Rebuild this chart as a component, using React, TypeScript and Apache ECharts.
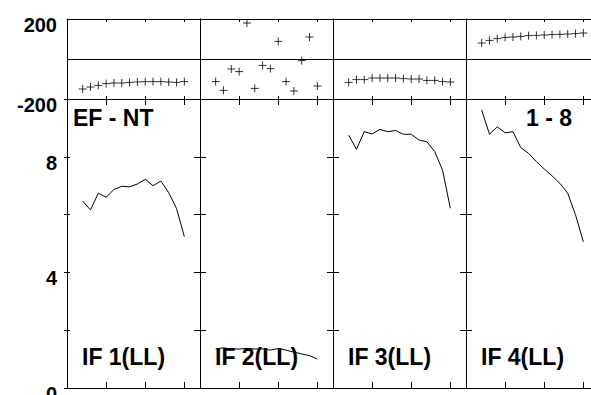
import React, { useEffect, useRef } from "react";
import * as echarts from "echarts";

const xValues = [2, 3, 4, 5, 6, 7, 8, 9, 10, 11, 12, 13, 14, 15];
const panelLabels = ["IF 1(LL)", "IF 2(LL)", "IF 3(LL)", "IF 4(LL)"];
const topTickLabels = [-200, 200];
const bottomTickLabels = [0, 4, 8];

const topIF1 = [-150, -140, -132, -123, -120, -120, -117, -115, -113, -113, -113, -115, -117, -113];
const topIF2 = [-113, -157, -50, -63, 180, -147, -32, -48, 88, -113, -160, -8, 110, -135];
const topIF3 = [-117, -103, -103, -95, -95, -95, -95, -98, -100, -100, -107, -107, -113, -115];
const topIF4 = [80, 93, 102, 108, 110, 113, 117, 118, 120, 122, 123, 125, 127, 130];

const lineIF1 = [6.47, 6.16, 6.74, 6.6, 6.87, 6.98, 6.96, 7.06, 7.22, 7.0, 7.16, 6.76, 6.21, 5.24];
const lineIF2 = [1.35, 1.39, 1.35, 1.35, 1.37, 1.35, 1.35, 1.31, 1.37, 1.31, 1.24, 1.18, 1.12, 1.0];
const lineIF3 = [8.75, 8.26, 8.87, 8.79, 8.95, 8.87, 8.91, 8.78, 8.78, 8.58, 8.52, 8.18, 7.54, 6.22];
const lineIF4 = [9.62, 8.78, 9.04, 8.83, 8.87, 8.32, 8.12, 7.83, 7.58, 7.34, 7.08, 6.74, 5.99, 5.06];

const topSeries = [topIF1, topIF2, topIF3, topIF4];
const lineSeries = [lineIF1, lineIF2, lineIF3, lineIF4];

const FONT = '"Liberation Sans", Arial, sans-serif';
const PANEL_LEFT = 67;
const PANEL_W = 133;
const TOP_Y = 19;
const TOP_H = 80;
const BOT_Y = 99;
const BOT_H = 289;

export default function App() {
  const ref = useRef<HTMLDivElement>(null);
  useEffect(() => {
    if (!ref.current) return;
    const chart = echarts.init(ref.current, null, { renderer: "svg" });
    const grids: any[] = [];
    const xAxes: any[] = [];
    const yAxes: any[] = [];
    const series: any[] = [];
    const graphics: any[] = [];
    const lineStyle = { color: "#000", width: 1 };
    const labelStyle = {
      margin: 10,
      fontFamily: FONT,
      fontWeight: "bold",
      fontSize: 20,
      color: "#000",
      verticalAlign: "top",
      lineHeight: 12,
    };

    const mkX = (gridIndex: number, position: string, tickLen: number) => ({
      type: "value",
      gridIndex,
      position,
      min: 0,
      max: 17,
      interval: 5,
      axisLine: { show: true, onZero: false, lineStyle },
      axisTick: { show: true, inside: true, length: tickLen, lineStyle },
      axisLabel: { show: false },
      splitLine: { show: false },
    });

    for (let i = 0; i < 4; i++) {
      const left = PANEL_LEFT + PANEL_W * i;
      const gTop = grids.length;
      grids.push({
        left,
        top: TOP_Y,
        width: PANEL_W,
        height: TOP_H,
        containLabel: false,
        outerBoundsMode: "none",
      });
      const gBot = grids.length;
      grids.push({
        left,
        top: BOT_Y,
        width: PANEL_W,
        height: BOT_H,
        containLabel: false,
        outerBoundsMode: "none",
      });

      const xTop = xAxes.length;
      xAxes.push(mkX(gTop, "bottom", 3));
      xAxes.push(mkX(gTop, "top", 3));
      const yTop = yAxes.length;
      yAxes.push({
        type: "value",
        gridIndex: gTop,
        position: "left",
        min: -200,
        max: 200,
        interval: 200,
        axisLine: { show: true, onZero: false, lineStyle },
        axisTick: { show: false },
        axisLabel: {
          show: i === 0,
          ...labelStyle,
          formatter: (v: number) => (topTickLabels.includes(v) ? String(v) : ""),
        },
        splitLine: { show: true, lineStyle },
      });
      yAxes.push({
        type: "value",
        gridIndex: gTop,
        position: "right",
        min: -200,
        max: 200,
        interval: 200,
        axisLine: { show: true, onZero: false, lineStyle },
        axisTick: { show: false },
        axisLabel: { show: false },
        splitLine: { show: false },
      });

      const xBot = xAxes.length;
      xAxes.push(mkX(gBot, "bottom", 6));
      xAxes.push(mkX(gBot, "top", 6));
      const yBot = yAxes.length;
      yAxes.push({
        type: "value",
        gridIndex: gBot,
        position: "left",
        min: 0,
        max: 10,
        interval: 2,
        axisLine: { show: true, onZero: false, lineStyle },
        axisTick: { show: true, inside: true, length: i === 0 ? 3 : 6, lineStyle },
        axisLabel: { show: false },
        splitLine: { show: false },
      });
      yAxes.push({
        type: "value",
        gridIndex: gBot,
        position: "right",
        min: 0,
        max: 10,
        interval: 2,
        axisLine: { show: true, onZero: false, lineStyle },
        axisTick: { show: true, inside: true, length: 6, lineStyle },
        axisLabel: { show: false },
        splitLine: { show: false },
      });
      if (i === 0) {
        yAxes.push({
          type: "value",
          gridIndex: gBot,
          position: "left",
          min: 0,
          max: 10,
          interval: 2,
          axisLine: { show: false },
          axisTick: { show: true, inside: false, length: 3, lineStyle },
          axisLabel: {
            show: true,
            ...labelStyle,
            formatter: (v: number) => (bottomTickLabels.includes(v) ? String(v) : ""),
          },
          splitLine: { show: false },
        });
      }

      series.push({
        type: "scatter",
        xAxisIndex: xTop,
        yAxisIndex: yTop,
        symbol: "path://M0,5L10,5M5,0L5,10",
        symbolSize: 8,
        itemStyle: { color: "#000", borderColor: "#000", borderWidth: 1 },
        data: xValues.map((x, j) => [x, topSeries[i][j]]),
      });
      series.push({
        type: "line",
        xAxisIndex: xBot,
        yAxisIndex: yBot,
        symbol: "none",
        lineStyle: { color: "#000", width: 1 },
        data: xValues.map((x, j) => [x, lineSeries[i][j]]),
      });

      graphics.push({
        type: "text",
        left: left + 15,
        top: 345,
        style: {
          text: panelLabels[i],
          font: `bold 23px ${FONT}`,
          fill: "#000",
        },
      });
    }

    graphics.push({
      type: "text",
      left: 73,
      top: 106,
      style: { text: "EF - NT", font: `bold 23px ${FONT}`, fill: "#000" },
    });
    graphics.push({
      type: "text",
      left: 526,
      top: 106,
      style: { text: "1 - 8", font: `bold 23px ${FONT}`, fill: "#000" },
    });

    chart.setOption({
      animation: false,
      backgroundColor: "#fff",
      grid: grids,
      xAxis: xAxes,
      yAxis: yAxes,
      series,
      graphic: graphics,
    });
    return () => chart.dispose();
  }, []);

  return (
    <div
      style={{
        position: "fixed",
        left: 0,
        top: 0,
        width: 591,
        height: 395,
        overflow: "hidden",
        background: "#fff",
      }}
    >
      <div ref={ref} style={{ width: 620, height: 395 }} />
    </div>
  );
}
